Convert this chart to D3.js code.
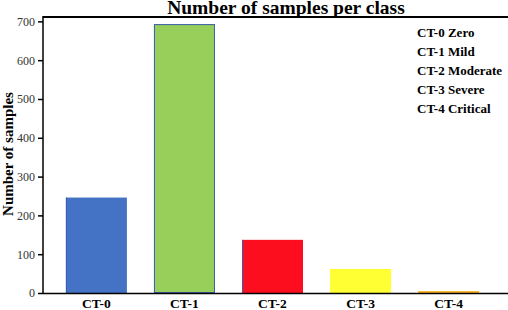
<!DOCTYPE html>
<html>
<head>
<meta charset="utf-8">
<script src="https://cdn.jsdelivr.net/npm/d3@7"></script>
<style>
  body { margin: 0; background: #fff; }
  svg { display: block; font-family: "Liberation Serif", "DejaVu Serif", serif; }
</style>
</head>
<body>
<svg id="chart" width="508" height="310"></svg>
<script>
// Data
var classes = ['CT-0', 'CT-1', 'CT-2', 'CT-3', 'CT-4'];
var counts = [246, 693, 137, 62, 5];
var class_names = ['CT-0 Zero', 'CT-1 Mild', 'CT-2 Moderate', 'CT-3 Severe', 'CT-4 Critical'];
var colors = ['#4472c4', '#97cf5a', '#fc0e1f', '#ffff33', '#fdb42b'];
var y_ticks = [0, 100, 200, 300, 400, 500, 600, 700];

var svg = d3.select('#chart');
var plot_left = 43, plot_right = 508, plot_top = 17.5, plot_bottom = 293;

// Scales
var x = d3.scaleBand()
          .domain(classes)
          .range([plot_left, 502])
          .paddingInner(0.307)
          .paddingOuter(0.26);

var y = d3.scaleLinear()
          .domain([0, 710])
          .range([plot_bottom, plot_top]);

// Title (top clipped by the window edge, as in the original)
svg.append('text')
   .attr('x', 286)
   .attr('y', 13.5)
   .attr('text-anchor', 'middle')
   .style('font-size', '19.5px')
   .style('font-weight', 'bold')
   .text('Number of samples per class');

// Bars
svg.selectAll('rect.bar')
   .data(classes)
   .enter().append('rect')
   .attr('class', 'bar')
   .attr('x', function(d) { return x(d); })
   .attr('y', function(d, i) { return y(counts[i]); })
   .attr('width', x.bandwidth())
   .attr('height', function(d, i) { return plot_bottom - y(counts[i]); })
   .attr('fill', function(d, i) { return colors[i]; });

// CT-1 has a thin blue outline, CT-0 and CT-2 a blue left edge
svg.append('rect')
   .attr('x', x('CT-1') + 0.5)
   .attr('y', y(counts[1]) + 0.5)
   .attr('width', x.bandwidth() - 1)
   .attr('height', plot_bottom - y(counts[1]) - 1)
   .attr('fill', 'none')
   .attr('stroke', '#3a5fb0')
   .attr('stroke-width', 1);

[0, 2].forEach(function(i) {
  svg.append('line')
     .attr('x1', x(classes[i]) + 0.5)
     .attr('x2', x(classes[i]) + 0.5)
     .attr('y1', y(counts[i]))
     .attr('y2', plot_bottom)
     .attr('stroke', '#3a5fb0')
     .attr('stroke-width', 1);
});

// Frame lines (top, bottom)
svg.append('line')
   .attr('x1', plot_left).attr('x2', plot_right)
   .attr('y1', plot_top - 0.5).attr('y2', plot_top - 0.5)
   .attr('stroke', '#000').attr('stroke-width', 2);
svg.append('line')
   .attr('x1', plot_left).attr('x2', plot_right)
   .attr('y1', plot_bottom + 0.5).attr('y2', plot_bottom + 0.5)
   .attr('stroke', '#000').attr('stroke-width', 1.5);

// Y axis
var y_axis = svg.append('g')
                .attr('transform', 'translate(' + plot_left + ',0)')
                .call(d3.axisLeft(y).tickValues(y_ticks).tickSize(5).tickPadding(3));
y_axis.select('.domain')
      .attr('d', 'M0,' + (plot_top - 1.5) + 'V' + (plot_bottom + 1))
      .attr('stroke-width', 1.5);
y_axis.selectAll('.tick line').attr('stroke-width', 1.5);
y_axis.selectAll('.tick text')
      .style('font-family', '"Liberation Serif", serif')
      .style('font-size', '12px')
      .attr('fill', '#333');

// Y axis title
svg.append('text')
   .attr('transform', 'translate(12.5,154) rotate(-90)')
   .attr('text-anchor', 'middle')
   .style('font-size', '15px')
   .style('font-weight', 'bold')
   .text('Number of samples');

// X labels
svg.selectAll('text.xlab')
   .data(classes)
   .enter().append('text')
   .attr('class', 'xlab')
   .attr('x', function(d) { return x(d) + x.bandwidth() / 2; })
   .attr('y', 307.5)
   .attr('text-anchor', 'middle')
   .style('font-size', '13.5px')
   .style('font-weight', 'bold')
   .text(function(d) { return d; });

// Legend text (no swatches)
svg.selectAll('text.legend')
   .data(class_names)
   .enter().append('text')
   .attr('class', 'legend')
   .attr('x', 417)
   .attr('y', function(d, i) { return 36.7 + i * 19.1; })
   .style('font-size', '13px')
   .style('font-weight', 'bold')
   .text(function(d) { return d; });
</script>
</body>
</html>
